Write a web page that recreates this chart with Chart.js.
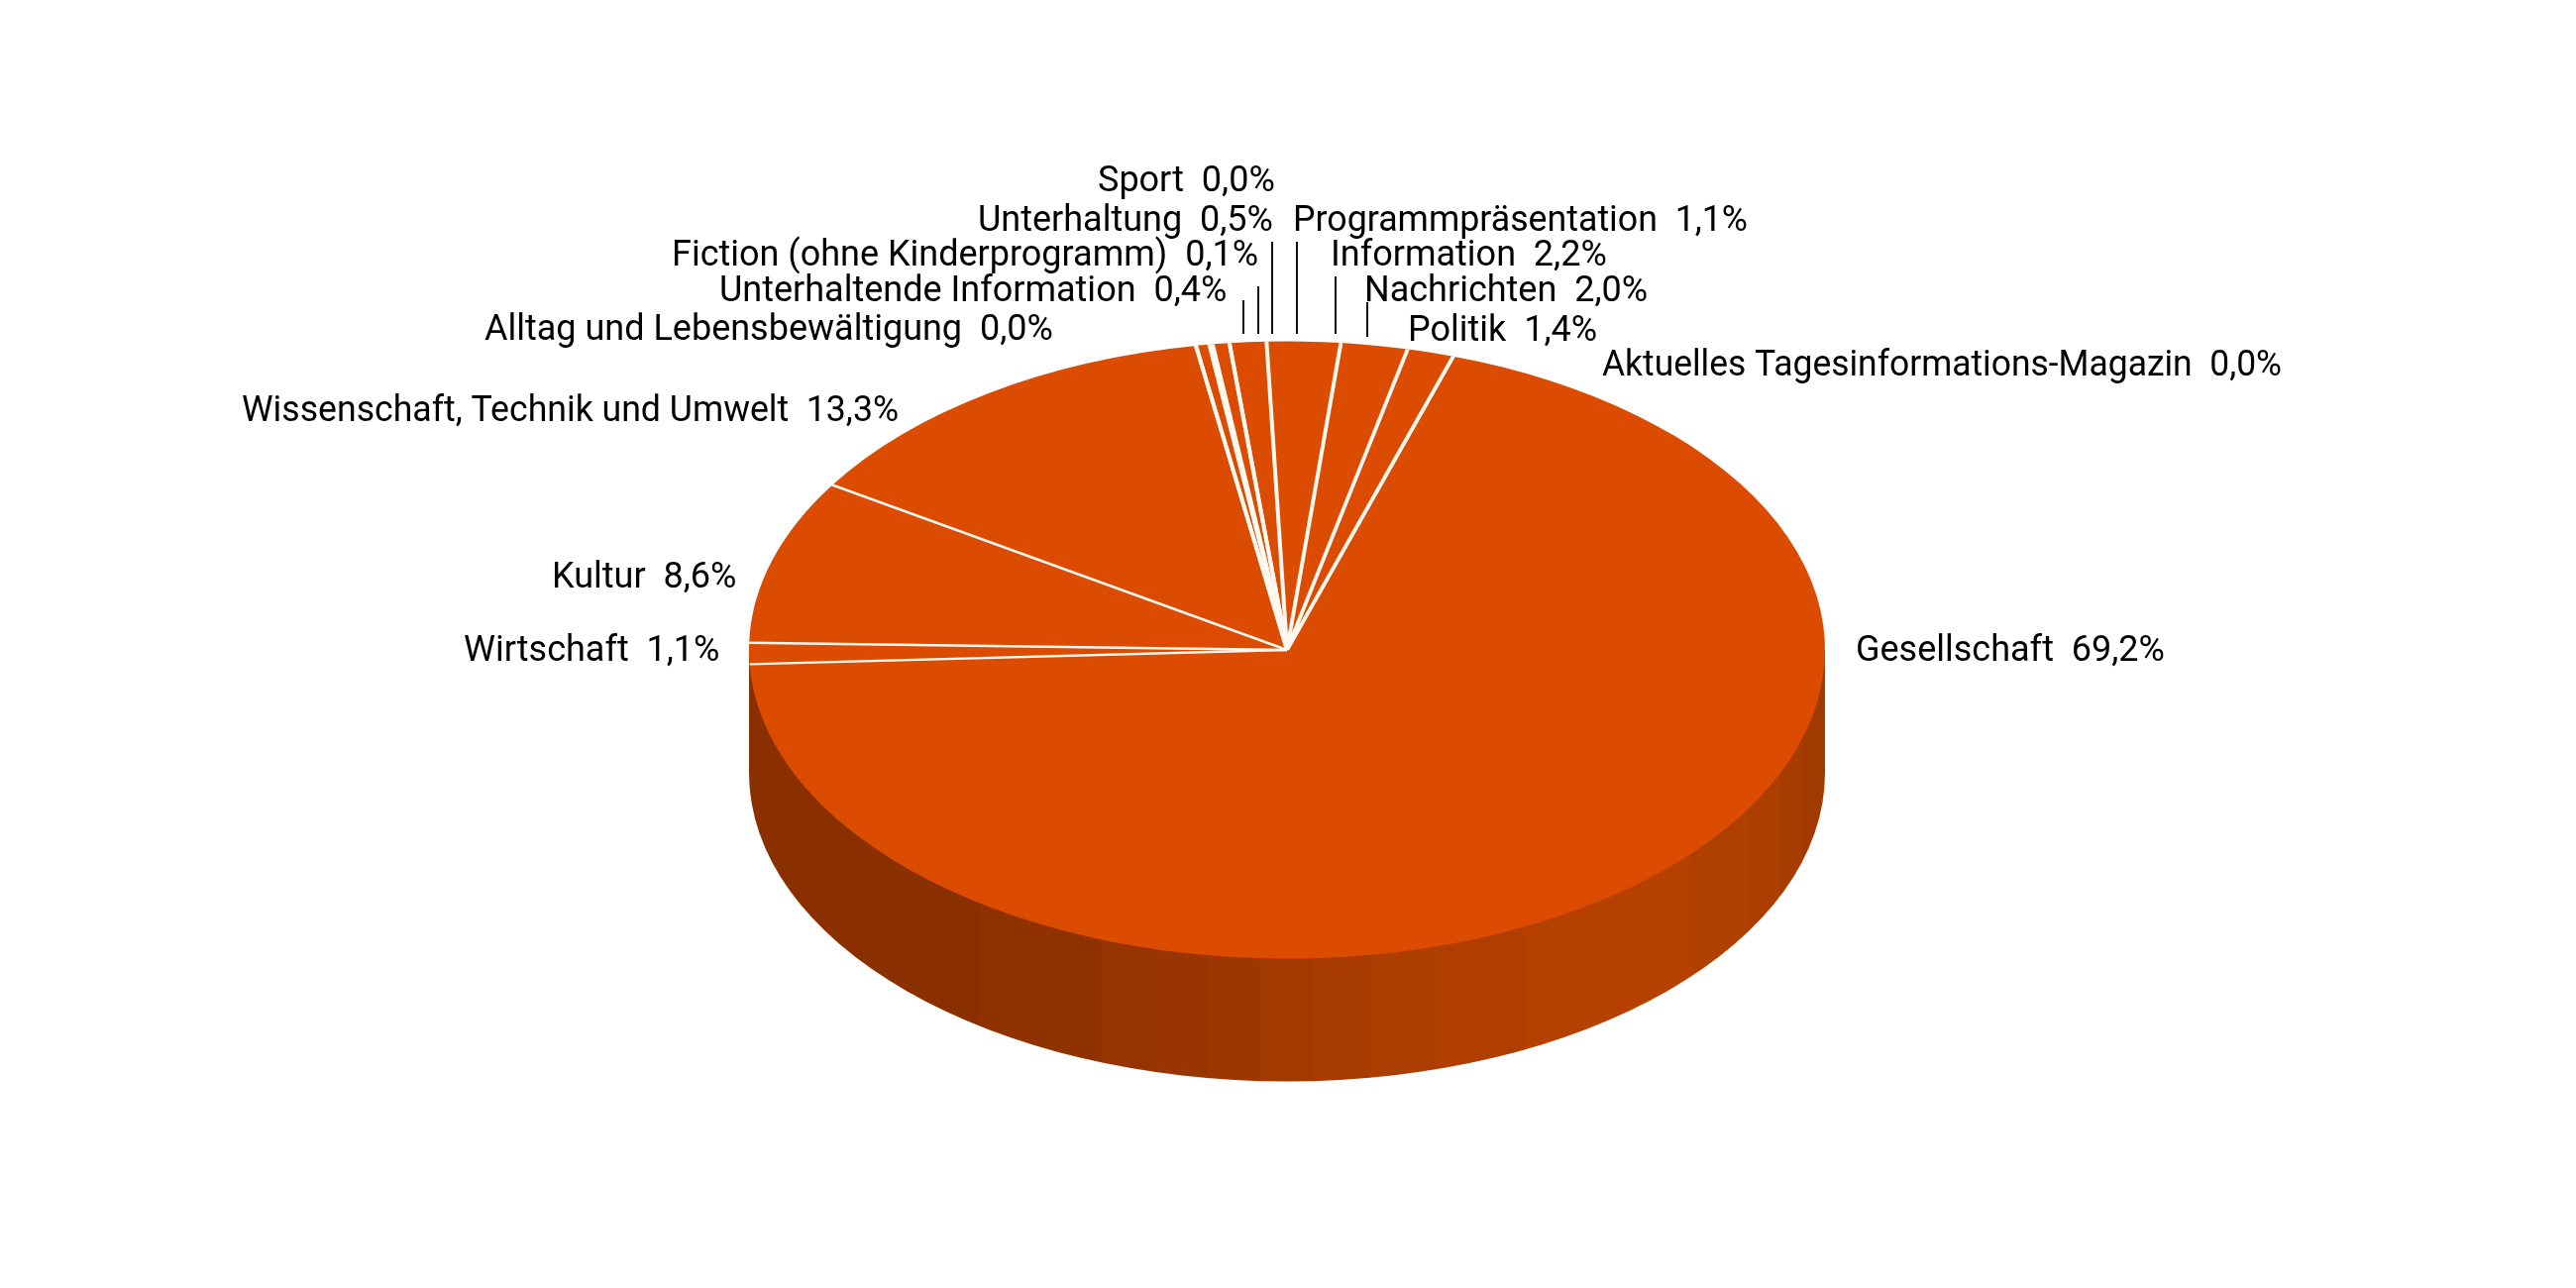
<!DOCTYPE html>
<html>
<head>
<meta charset="utf-8">
<script src="https://cdn.jsdelivr.net/npm/chart.js@4"></script>
<style>
  body { margin: 0; background: #fff; }
  canvas { display: block; }
</style>
</head>
<body>
<canvas id="myChart" width="2600" height="1300"></canvas>
<script>
let categories = ['Gesellschaft', 'Wirtschaft', 'Kultur', 'Wissenschaft, Technik und Umwelt',
  'Alltag und Lebensbewältigung', 'Unterhaltende Information', 'Fiction (ohne Kinderprogramm)',
  'Unterhaltung', 'Sport', 'Programmpräsentation', 'Information', 'Nachrichten', 'Politik',
  'Aktuelles Tagesinformations-Magazin'];
let values = [69.2, 1.1, 8.6, 13.3, 0.0, 0.4, 0.1, 0.5, 0.0, 1.1, 2.2, 2.0, 1.4, 0.0];

// where each label sits: left edge, right edge, middle of the line
let labelBoxes = [
  [1873, 2191, 658], [468, 730, 658], [557, 750, 584], [244, 907, 416],
  [489, 1066, 334], [726, 1245, 295], [678, 1273, 259],
  [987, 1293, 224], [1108, 1295, 184], [1305, 1764, 224], [1343, 1628, 259],
  [1377, 1666, 295], [1421, 1618, 335], [1617, 2303, 370]
];
// leader lines above the fan: x, top, bottom
let leaders = [
  [1255, 303, 337], [1270, 289, 337], [1284, 244, 337], [1309, 244, 337], [1348, 279, 337], [1380, 305, 340]
];
// side wall facets: right edge of facet, colour
let facets = [
  [989, '#8a3000'], [1112, '#8f3200'], [1167, '#953400'], [1219, '#983500'], [1271, '#9c3700'],
  [1325, '#a23900'], [1383, '#a83b00'], [1448, '#ad3d00'], [1538, '#b03e00'], [1707, '#b54000'],
  [1764, '#b04000'], [1797, '#ab3e00'], [1818, '#a63c00'], [1850, '#a03a00']
];

let squash = 311.5 / 543;
let depth = 124;

let pie3d = {
  id: 'pie3d',
  beforeDatasetsDraw(chart) {
    let c = chart.ctx;
    let arc = chart.getDatasetMeta(0).data[0];
    let r = arc.outerRadius, x = arc.x, y = arc.y;

    // wall first, the top of the pie covers what is not needed
    c.save();
    c.beginPath();
    c.moveTo(x - r, y);
    c.lineTo(x - r, y + depth);
    c.ellipse(x, y + depth, r, r * squash, 0, Math.PI, 0, true);
    c.lineTo(x + r, y);
    c.closePath();
    c.clip();
    let left = x - r - 2;
    facets.forEach(f => {
      c.fillStyle = f[1];
      c.fillRect(left, y, f[0] - left + 0.5, depth + r);
      // faint seam between two facets
      c.fillStyle = 'rgba(235,110,30,0.25)';
      c.fillRect(f[0], y, 1, depth + r);
      left = f[0];
    });
    c.restore();

    c.save();
    c.translate(0, y);
    c.scale(1, squash);
    c.translate(0, -y);
  },
  afterDatasetsDraw(chart) {
    let c = chart.ctx;
    let arcs = chart.getDatasetMeta(0).data;
    c.strokeStyle = '#fdf8f0';
    c.lineWidth = 4;
    arcs.forEach(a => {
      c.beginPath();
      c.moveTo(a.x, a.y);
      c.lineTo(a.x + a.outerRadius * Math.cos(a.startAngle), a.y + a.outerRadius * Math.sin(a.startAngle));
      c.stroke();
    });
    c.restore();

    c.fillStyle = '#000';
    c.font = '36px Roboto';
    c.textAlign = 'left';
    c.textBaseline = 'middle';
    categories.forEach((name, i) => {
      let b = labelBoxes[i];
      let txt = name + '  ' + values[i].toFixed(1).replace('.', ',') + '%';
      c.fillText(txt, b[0], b[2], b[1] - b[0]);
    });
    c.strokeStyle = '#111';
    c.lineWidth = 2;
    leaders.forEach(l => {
      c.beginPath();
      c.moveTo(l[0], l[1]);
      c.lineTo(l[0], l[2]);
      c.stroke();
    });
  }
};

let ctx = document.getElementById('myChart').getContext('2d');
let chart = new Chart(ctx, {
  type: 'pie',
  data: {
    labels: categories,
    datasets: [{
      data: values,
      backgroundColor: '#db4b00',
      borderWidth: 0
    }]
  },
  options: {
    responsive: false,
    animation: false,
    rotation: 18,
    layout: { padding: { left: 756, right: 758, top: 113, bottom: 101 } },
    plugins: { legend: { display: false }, tooltip: { enabled: false } }
  },
  plugins: [pie3d]
});
</script>
</body>
</html>
